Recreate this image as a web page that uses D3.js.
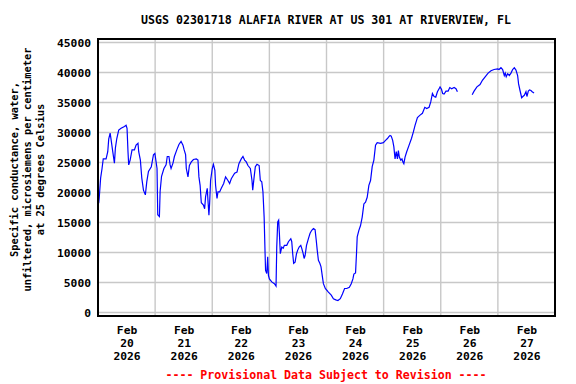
<!DOCTYPE html>
<html>
<head>
<meta charset="utf-8">
<script src="https://cdn.jsdelivr.net/npm/d3@7"></script>
<style>
  body { margin: 0; background: #fff; }
  text { font-family: "DejaVu Sans Mono", "Liberation Mono", monospace; font-weight: bold; }
</style>
</head>
<body>
<div id="chart"></div>
<script>
// ---------------- Data (hours after Feb 20 2026 00:00, uS/cm) ----------------
const startDate = new Date(2026, 1, 20, 0, 0)

const hours = [
  0.3, 0.5, 1.1, 1.7, 2.2, 3.4, 4.1, 4.5, 5.1, 5.5, 6.2, 6.9, 7.3, 7.9, 8.7, 9.7, 11.1, 11.8, 12.2, 12.6,
  12.9, 13.5, 14.3, 15.3, 16.0, 16.8, 17.1, 17.8, 18.4, 19.1, 19.9, 20.5, 21.2, 22.4, 23.3, 23.9, 24.3, 24.8, 25.1, 25.8,
  26.1, 26.7, 27.7, 28.6, 29.1, 29.8, 30.3, 30.7, 31.5, 32.1, 33.1, 34.0, 34.9, 35.7, 36.2, 36.8, 37.1, 37.8, 38.4, 39.2,
  40.1, 41.3, 42.0, 42.4, 42.9, 43.4, 44.3, 44.8, 45.2, 45.9, 46.2, 46.6, 46.9, 47.3, 48.0, 48.5, 49.1, 49.4, 50.0, 50.4,
  51.1, 51.8, 52.8, 53.6, 54.6, 55.3, 56.0, 57.4, 58.4, 59.2, 60.2, 60.9, 61.6, 62.3, 63.0, 64.0, 64.7, 65.0, 65.6, 66.1,
  66.8, 67.7, 68.2, 68.8, 69.3, 69.8, 70.2, 70.4, 70.9, 71.3, 71.6, 72.0, 73.0, 74.1, 74.8, 75.1, 75.5, 75.9, 76.2, 76.6,
  77.2, 77.8, 78.3, 79.3, 80.0, 81.0, 81.4, 81.8, 82.2, 82.8, 83.4, 83.9, 84.5, 85.2, 85.6, 86.2, 86.6, 87.0, 87.6, 88.4,
  89.1, 89.8, 90.5, 91.2, 91.7, 92.1, 92.6, 93.2, 93.7, 94.3, 94.7, 95.5, 96.8, 98.0, 98.9, 99.9, 100.8, 101.8, 102.7, 103.6,
  104.5, 105.6, 106.4, 107.1, 107.5, 108.2, 108.6, 108.9, 109.6, 110.3, 111.0, 111.7, 112.4, 113.1, 113.8, 114.5, 115.2, 115.9, 116.6, 117.3,
  118.7, 119.9, 120.8, 121.6, 122.2, 122.7, 123.2, 123.8, 124.3, 124.8, 125.3, 125.8, 126.2, 126.6, 127.2, 127.7, 128.1, 128.5, 129.0, 129.7,
  130.7, 131.7, 132.5, 133.2, 134.2, 135.3, 136.3, 137.3, 138.1, 139.1, 139.8, 140.5, 141.2, 141.9, 142.6, 143.3, 143.7, 144.3, 144.8, 145.4,
  146.2, 147.1, 147.8, 148.6, 149.6, 150.4, 151.0, 154.0,
  157.2, 158.0, 159.2, 160.5, 161.5, 162.9, 163.9, 165.1, 166.4, 167.9, 168.5, 169.3, 170.0, 170.7, 171.1, 171.5, 172.1, 172.8, 173.5, 174.2,
  174.9, 175.6, 176.3, 176.7, 177.3, 178.0, 178.5, 179.1, 179.8, 180.2, 180.8, 181.3, 181.9, 182.4, 183.2
]

// null = missing record (gap on Feb 26)
const conductance = [
  18200, 19000, 22400, 24000, 25600, 25600, 26800, 28900, 29900, 28800, 26800, 24900, 27400, 29000, 30400, 30700, 31000, 31200, 30700, 26800,
  24600, 25400, 27100, 27100, 27900, 28200, 26800, 25400, 22400, 20400, 19600, 21800, 23500, 24300, 26300, 26500, 25400, 24000, 16300, 16000,
  20200, 22700, 24000, 24600, 26000, 26000, 24600, 24000, 24900, 26000, 27100, 28000, 28500, 27900, 27100, 26300, 24000, 22600, 24500, 25100,
  25500, 25600, 25400, 22600, 21200, 18300, 17900, 17300, 19300, 20700, 18700, 16200, 18200, 22000, 24000, 24700, 23700, 21200, 19000, 20100,
  20100, 20700, 21500, 22600, 22000, 21500, 22300, 23200, 23400, 24800, 25600, 26000, 25400, 25100, 24500, 24000, 22000, 20400, 22600, 24300,
  24700, 24500, 22000, 21800, 20100, 15900, 9800, 7000, 6500, 9300, 6200, 5600, 5100, 4800, 4400, 10900, 15100, 15400, 13200, 9800,
  10900, 10700, 11200, 11200, 11800, 12300, 11800, 9800, 8200, 8400, 9800, 10400, 10900, 11200, 10700, 9800, 9000, 9500, 11200, 12300,
  13200, 13700, 14000, 13800, 12000, 10400, 8700, 8200, 7600, 5900, 4800, 4000, 3400, 2900, 2300, 2100, 2000, 2300, 3100, 4000,
  4000, 4200, 4800, 5600, 6400, 6600, 9800, 12600, 13700, 14500, 15900, 18100, 18400, 19200, 21200, 22000, 24300, 25400, 27900, 28300,
  28200, 28300, 28700, 29000, 29300, 29500, 29400, 28700, 27600, 25600, 26800, 25600, 27000, 25900, 25400, 25600, 25100, 24800, 25900, 26800,
  27900, 29000, 30100, 31200, 32500, 32900, 33200, 34200, 34000, 34200, 35100, 36500, 36000, 35900, 36800, 37300, 37600, 37200, 36500, 36400,
  36900, 36900, 37500, 37300, 37500, 37300, 36800, null,
  36300, 36900, 37600, 38000, 38700, 39400, 39900, 40300, 40500, 40600, 40500, 40800, 40500, 39500, 39900, 39300, 39800, 39500, 39900, 40500,
  40800, 40400, 39500, 38100, 37000, 35800, 36000, 36200, 36800, 36000, 36900, 37100, 37000, 36800, 36600
]

const yTicks = [0, 5000, 10000, 15000, 20000, 25000, 30000, 35000, 40000, 45000]
const dayLabels = ["20", "21", "22", "23", "24", "25", "26", "27"]

const dataset = hours.map((h, i) => ({
  date: d3.timeMinute.offset(startDate, Math.round(h * 60)),
  value: conductance[i]
}))

// ---------------- Dimensions ----------------
const width = 576, height = 384
const frame = { left: 98, right: 555, top: 39, bottom: 316 }

const svg = d3.select("#chart").append("svg")
  .attr("width", width)
  .attr("height", height)

svg.append("rect").attr("width", width).attr("height", height).attr("fill", "#fff")

// ---------------- Scales ----------------
const xScale = d3.scaleTime()
  .domain([startDate, d3.timeDay.offset(startDate, 8)])
  .range([frame.left, frame.right])

const yScale = d3.scaleLinear()
  .domain([0, 45000])
  .range([312.5, 42.5])

// ---------------- Grid ----------------
const grid = svg.append("g").attr("stroke", "#c8c8c8").attr("stroke-width", 1.4)

grid.selectAll(".h")
  .data(yTicks)
  .join("line")
  .attr("x1", frame.left).attr("x2", frame.right)
  .attr("y1", d => yScale(d)).attr("y2", d => yScale(d))

grid.selectAll(".v")
  .data(d3.range(1, 8).map(i => d3.timeDay.offset(startDate, i)))
  .join("line")
  .attr("x1", d => xScale(d)).attr("x2", d => xScale(d))
  .attr("y1", frame.top).attr("y2", frame.bottom)

// ---------------- Line ----------------
const lineGenerator = d3.line()
  .defined(d => d.value != null)
  .x(d => xScale(d.date))
  .y(d => yScale(d.value))

svg.append("path")
  .datum(dataset)
  .attr("d", lineGenerator)
  .attr("fill", "none")
  .attr("stroke", "#0000ff")
  .attr("stroke-width", 1.2)

// ---------------- Frame ----------------
svg.append("rect")
  .attr("x", frame.left).attr("y", frame.top)
  .attr("width", frame.right - frame.left)
  .attr("height", frame.bottom - frame.top)
  .attr("fill", "none")
  .attr("stroke", "#000")
  .attr("stroke-width", 2)

// ---------------- Axes ----------------
const yAxis = d3.axisLeft(yScale).tickValues(yTicks).tickSize(0).tickPadding(7).tickFormat(d3.format("d"))

svg.append("g")
  .attr("transform", `translate(${frame.left},0)`)
  .call(yAxis)
  .call(g => g.select(".domain").remove())
  .selectAll("text")
  .style("font-size", "11.3px")
  .style("font-family", "'DejaVu Sans Mono', monospace")
  .style("font-weight", "bold")
  .attr("fill", "#000")

const noonTicks = d3.range(8).map(i => d3.timeHour.offset(startDate, 24 * i + 12))
const xAxis = d3.axisBottom(xScale).tickValues(noonTicks).tickSize(0).tickFormat("")

const xg = svg.append("g")
  .attr("transform", `translate(0,${frame.bottom})`)
  .call(xAxis)
xg.select(".domain").remove()

xg.selectAll(".tick").append("text")
  .attr("text-anchor", "middle")
  .attr("fill", "#000")
  .style("font-size", "11.3px")
  .selectAll("tspan")
  .data((d, i) => ["Feb", dayLabels[i], "2026"])
  .join("tspan")
  .attr("x", 0)
  .attr("y", (d, i) => 18 + i * 13)
  .text(d => d)

// ---------------- Y label ----------------
const yLabel = ["Specific conductance, water,", "unfiltered, microsiemens per centimeter", "at 25 degrees Celsius"]

svg.append("g")
  .attr("transform", "translate(0,169.5) rotate(-90)")
  .selectAll("text")
  .data(yLabel)
  .join("text")
  .attr("x", 0)
  .attr("y", (d, i) => 17.5 + i * 13)
  .attr("text-anchor", "middle")
  .style("font-size", "10.4px")
  .text(d => d)

// ---------------- Title and footer ----------------
svg.append("text")
  .attr("x", 326).attr("y", 24)
  .attr("text-anchor", "middle")
  .style("font-size", "11.6px")
  .text("USGS 02301718 ALAFIA RIVER AT US 301 AT RIVERVIEW, FL")

svg.append("text")
  .attr("x", 326).attr("y", 379)
  .attr("text-anchor", "middle")
  .attr("fill", "#ff0000")
  .style("font-size", "11.6px")
  .text("---- Provisional Data Subject to Revision ----")
</script>
</body>
</html>
